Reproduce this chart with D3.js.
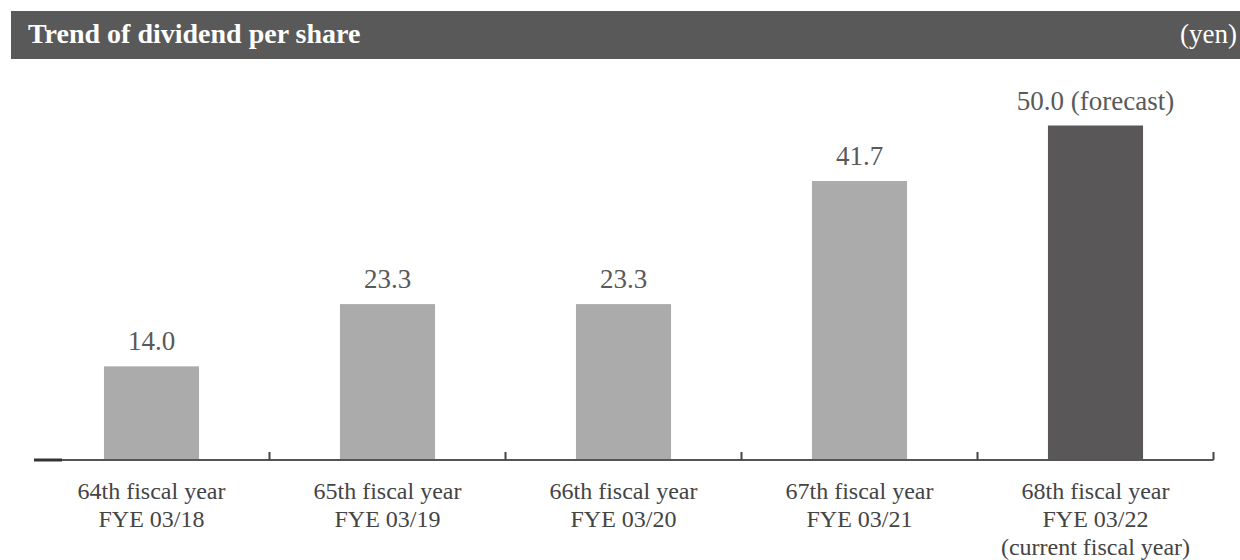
<!DOCTYPE html>
<html lang="en">
<head>
  <meta charset="utf-8">
  <title>Trend of dividend per share</title>
  <script src="https://d3js.org/d3.v7.min.js"></script>
  <style>
    body { margin: 0; background: #fff; }
    text { font-family: "Liberation Serif", "Times New Roman", serif; }
  </style>
</head>
<body>
<script>
  // data
  var categories = ["64th", "65th", "66th", "67th", "68th"];
  var labelLines = [
    ["64th fiscal year", "FYE 03/18"],
    ["65th fiscal year", "FYE 03/19"],
    ["66th fiscal year", "FYE 03/20"],
    ["67th fiscal year", "FYE 03/21"],
    ["68th fiscal year", "FYE 03/22", "(current fiscal year)"]
  ];
  var dividends = [14.0, 23.3, 23.3, 41.7, 50.0];
  var valueLabels = ["14.0", "23.3", "23.3", "41.7", "50.0 (forecast)"];
  var forecast = [false, false, false, false, true];

  var W = 1240, H = 560;
  var baseY = 460;

  var svg = d3.select("body").append("svg")
    .attr("width", W)
    .attr("height", H);

  // header bar
  svg.append("rect")
    .attr("x", 11).attr("y", 11)
    .attr("width", W - 11).attr("height", 48)
    .attr("fill", "#595959");
  svg.append("text")
    .attr("x", 28).attr("y", 43)
    .attr("fill", "#fff")
    .attr("font-size", "28px")
    .attr("font-weight", "bold")
    .text("Trend of dividend per share");
  svg.append("text")
    .attr("x", 1237).attr("y", 43)
    .attr("text-anchor", "end")
    .attr("fill", "#fff")
    .attr("font-size", "27px")
    .text("(yen)");

  var x = d3.scaleBand()
    .domain(categories)
    .range([33.5, 1213.5])
    .paddingInner(0.597)
    .paddingOuter(0.2985);

  var y = d3.scaleLinear()
    .domain([0, 50])
    .range([baseY, 125.5]);

  var data = categories.map(function (c, i) {
    return { cat: c, value: dividends[i], label: valueLabels[i], lines: labelLines[i], fc: forecast[i] };
  });

  // bars
  svg.selectAll("rect.bar")
    .data(data)
    .enter()
    .append("rect")
    .attr("class", "bar")
    .attr("x", function (d) { return x(d.cat); })
    .attr("y", function (d) { return y(d.value); })
    .attr("width", x.bandwidth())
    .attr("height", function (d) { return baseY - y(d.value); })
    .attr("fill", function (d) { return d.fc ? "#595757" : "#ababab"; });

  // value labels
  svg.selectAll("text.val")
    .data(data)
    .enter()
    .append("text")
    .attr("class", "val")
    .attr("x", function (d) { return x(d.cat) + x.bandwidth() / 2; })
    .attr("y", function (d) { return y(d.value) - 16; })
    .attr("text-anchor", "middle")
    .attr("font-size", "27px")
    .attr("fill", "#595959")
    .text(function (d) { return d.label; });

  // axis line
  var gap = x.step() - x.bandwidth();
  svg.append("line")
    .attr("x1", 34).attr("x2", x.range()[1])
    .attr("y1", baseY).attr("y2", baseY)
    .attr("stroke", "#555").attr("stroke-width", 2);
  svg.append("line")
    .attr("x1", 34).attr("x2", 62)
    .attr("y1", baseY).attr("y2", baseY)
    .attr("stroke", "#333").attr("stroke-width", 3);

  // ticks at band boundaries
  svg.selectAll("line.tick")
    .data(data)
    .enter()
    .append("line")
    .attr("class", "tick")
    .attr("x1", function (d) { return x(d.cat) + x.bandwidth() + gap / 2; })
    .attr("x2", function (d) { return x(d.cat) + x.bandwidth() + gap / 2; })
    .attr("y1", baseY).attr("y2", baseY - 8)
    .attr("stroke", "#444").attr("stroke-width", 2);

  // category labels
  var cat = svg.selectAll("text.cat")
    .data(data)
    .enter()
    .append("text")
    .attr("class", "cat")
    .attr("text-anchor", "middle")
    .attr("font-size", "24px")
    .attr("fill", "#444");
  cat.selectAll("tspan")
    .data(function (d) { return d.lines.map(function (l) { return { t: l, cx: x(d.cat) + x.bandwidth() / 2 }; }); })
    .enter()
    .append("tspan")
    .attr("x", function (d) { return d.cx; })
    .attr("y", function (d, i) { return 499 + i * 28; })
    .text(function (d) { return d.t; });
</script>
</body>
</html>
